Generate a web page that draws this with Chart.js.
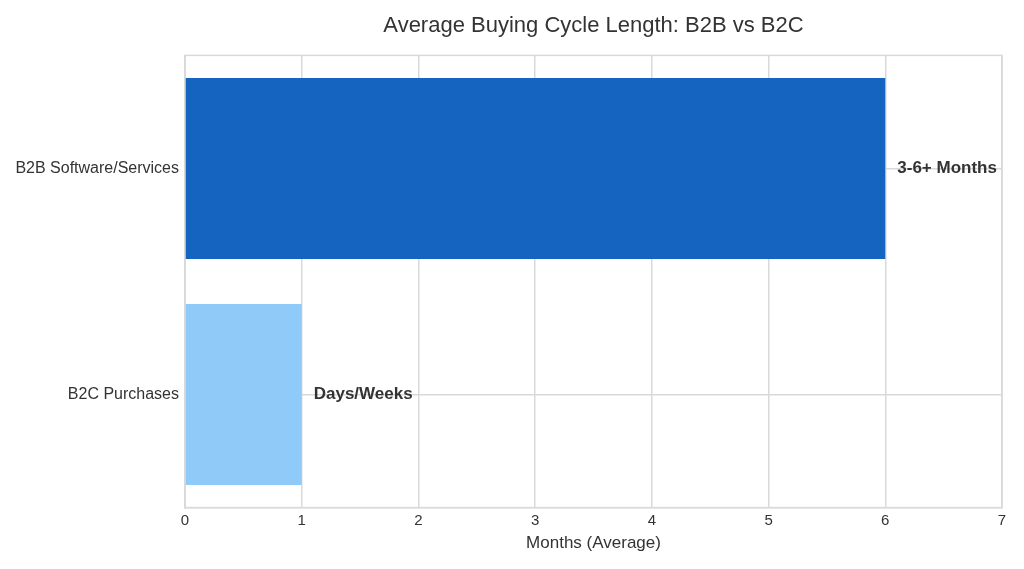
<!DOCTYPE html>
<html>
<head>
<meta charset="utf-8">
<script src="https://cdn.jsdelivr.net/npm/chart.js@4.4.1/dist/chart.umd.min.js"></script>
<style>
  html, body { margin: 0; padding: 0; background: #fff; }
  #wrap { width: 1024px; height: 569px; }
</style>
</head>
<body>
<div id="wrap"><canvas id="chart"></canvas></div>
<script>
// chart data
const categories = ['B2B Software/Services', 'B2C Purchases'];
const months = [6, 1];
const barLabels = ['3-6+ Months', 'Days/Weeks'];
const barColors = ['#1565C0', '#90CAF9'];
const xTicks = [0, 1, 2, 3, 4, 5, 6, 7];

const gridColor = '#d9d9d9';
const textColor = '#333333';
const fontFamily = '"Liberation Sans", Arial, sans-serif';

// draw the text after each bar
const barLabelPlugin = {
    id: 'barLabels',
    afterDatasetsDraw(chart) {
        const ctx = chart.ctx;
        const meta = chart.getDatasetMeta(0);
        ctx.save();
        ctx.font = 'bold 17px ' + fontFamily;
        ctx.fillStyle = textColor;
        ctx.textAlign = 'left';
        ctx.textBaseline = 'middle';
        meta.data.forEach((bar, i) => {
            ctx.fillText(barLabels[i], bar.x + 12, bar.y);
        });
        ctx.restore();
    }
};

// frame round the plot area (top + right edges)
const framePlugin = {
    id: 'frame',
    beforeDatasetsDraw(chart) {
        const { ctx, chartArea } = chart;
        ctx.save();
        ctx.strokeStyle = gridColor;
        ctx.lineWidth = 1.5;
        ctx.strokeRect(chartArea.left, chartArea.top, chartArea.right - chartArea.left, chartArea.bottom - chartArea.top);
        ctx.restore();
    }
};

new Chart(document.getElementById('chart'), {
    type: 'bar',
    data: {
        labels: categories,
        datasets: [{
            label: 'Months',
            data: months,
            backgroundColor: barColors,
            borderWidth: 0,
            barPercentage: 1.0,
            categoryPercentage: 0.8
        }]
    },
    options: {
        indexAxis: 'y',
        responsive: true,
        maintainAspectRatio: false,
        animation: false,
        layout: {
            padding: { left: 0, right: 22, top: 10, bottom: 15 }
        },
        plugins: {
            legend: { display: false },
            tooltip: { enabled: false },
            title: {
                display: true,
                fullSize: false,
                text: 'Average Buying Cycle Length: B2B vs B2C',
                color: textColor,
                font: { family: fontFamily, size: 22, weight: 'normal' },
                padding: { top: 3, bottom: 16 }
            }
        },
        scales: {
            x: {
                type: 'linear',
                min: 0,
                max: 7,
                afterBuildTicks: (scale) => {
                    scale.ticks = xTicks.map(v => ({ value: v }));
                },
                grid: { color: gridColor, lineWidth: 1.5, drawTicks: false },
                border: { color: gridColor, width: 1.5 },
                ticks: {
                    color: textColor,
                    padding: 4,
                    font: { family: fontFamily, size: 15 }
                },
                title: {
                    display: true,
                    text: 'Months (Average)',
                    color: textColor,
                    font: { family: fontFamily, size: 17 },
                    padding: { top: 0, bottom: 0 }
                }
            },
            y: {
                type: 'category',
                offset: true,
                afterFit: (scale) => { scale.width = 185; },
                grid: { color: gridColor, lineWidth: 1.5, drawTicks: false, offset: false },
                border: { color: gridColor, width: 1.5 },
                ticks: {
                    color: textColor,
                    padding: 6,
                    font: { family: fontFamily, size: 16 }
                }
            }
        }
    },
    plugins: [barLabelPlugin, framePlugin]
});
</script>
</body>
</html>
